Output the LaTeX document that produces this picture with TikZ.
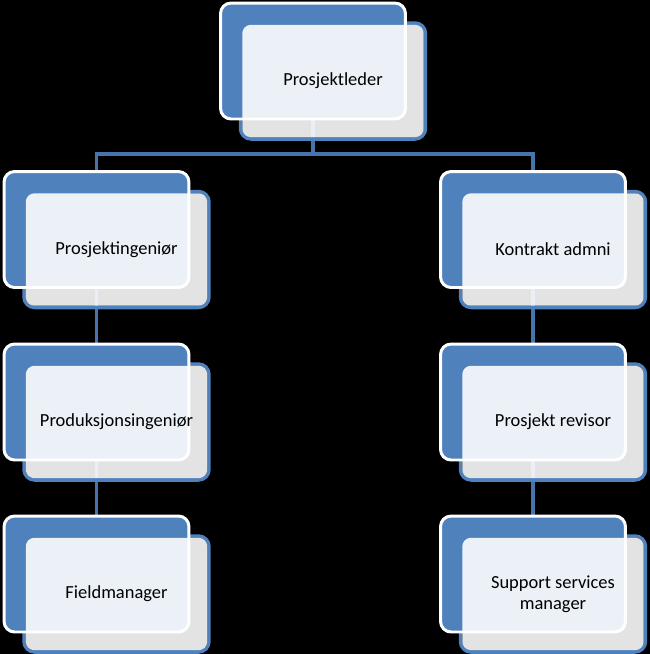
\documentclass[tikz,border=0pt]{standalone}
\usepackage{fontspec}
\setmainfont{Carlito}
\definecolor{accent}{HTML}{4F81BD}
\definecolor{linkblue}{HTML}{4675AE}
\pgfdeclarelayer{back}
\pgfsetlayers{back,main}
\newcommand{\orgbox}[4]{%
	\node[frontedge] at (#2+20, #3+20) {};
	\node[backbox] (#1) at (#2, #3) {};
	\node[frontbox] (#1F) at (#2+20, #3+20) {#4};
}

\begin{document}
\begin{tikzpicture}[x=0.02cm, y=-0.02cm,
		backbox/.style={draw=white, line width=1.7pt, fill=accent, rounded corners=6pt,
			minimum width=3.7cm, minimum height=2.32cm, inner sep=0pt},
		frontedge/.style={draw=accent, line width=2pt, rounded corners=6pt,
			minimum width=3.7cm, minimum height=2.32cm, inner sep=0pt},
		frontbox/.style={fill=white, fill opacity=0.89, text opacity=1, rounded corners=5pt,
			minimum width=3.7cm-2pt, minimum height=2.32cm-2pt, inner sep=0pt,
			align=center, font=\fontsize{10.5}{12}\selectfont},
		link/.style={draw=linkblue, line width=2pt}]
		\useasboundingbox (0, 0) rectangle (650, 654);

		\orgbox{leder}{313}{61}{Prosjektleder}
		\orgbox{ingenior}{96.5}{229.5}{Prosjektingeniør}
		\orgbox{produksjon}{96.5}{402}{Produksjonsingeniør}
		\orgbox{field}{96.5}{574}{Fieldmanager}
		\orgbox{kontrakt}{533}{229.5}{Kontrakt admni}
		\orgbox{revisor}{533}{402}{Prosjekt revisor}
		\orgbox{support}{533}{574}{Support services\\manager}

		\begin{pgfonlayer}{back}
			\fill[black] (0, 0) rectangle (650, 654);
			\coordinate (bus) at (313, 154);
			\draw[link] (leder) -- (bus);
			\draw[link] (bus) -| (ingenior);
			\draw[link] (bus) -| (kontrakt);
			\draw[link] (ingenior) -- (produksjon);
			\draw[link] (produksjon) -- (field);
			\draw[link] (kontrakt) -- (revisor);
			\draw[link] (revisor) -- (support);
		\end{pgfonlayer}
	\end{tikzpicture}
\end{document}
